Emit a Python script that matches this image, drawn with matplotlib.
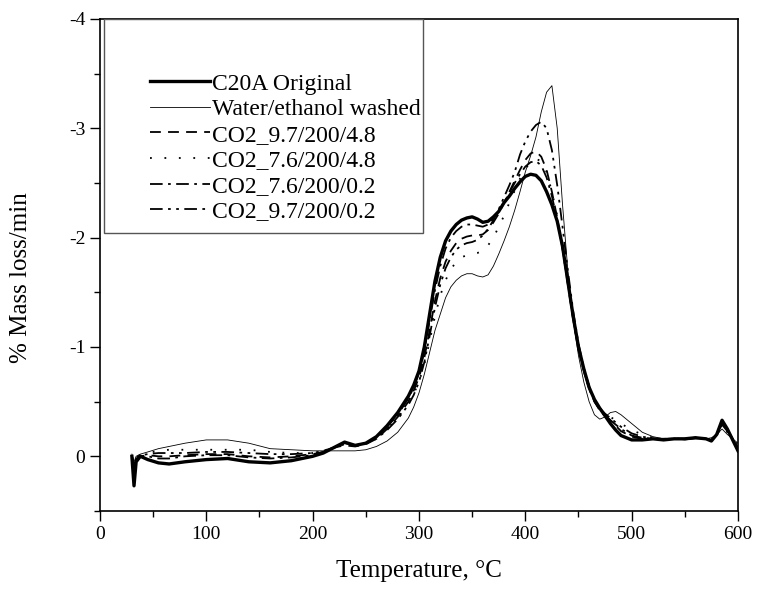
import matplotlib.pyplot as plt
import numpy as np
from matplotlib.ticker import MultipleLocator
from matplotlib.patches import Rectangle

plt.rcParams['font.family'] = ['Liberation Serif', 'DejaVu Serif']
plt.rcParams['axes.unicode_minus'] = False

# temperature grid (deg C)
temp = [30, 32, 34, 38, 45, 55, 65, 80, 100, 120, 140, 160, 180, 200, 210, 220, 230, 240, 250, 260,
        270, 280, 290, 295, 300, 305, 310, 315, 320, 325, 330, 335, 340, 345, 350, 355, 360, 365, 370, 375,
        380, 385, 390, 395, 400, 405, 410, 415, 420, 425, 430, 435, 440, 445, 450, 455, 460, 465, 470, 475,
        480, 485, 490, 500, 510, 520, 530, 540, 550, 560, 570, 575, 580, 585, 590, 595, 600]

# % mass loss/min
c20a = [0.0, 0.27, 0.05, 0.0, 0.03, 0.06, 0.07, 0.05, 0.03, 0.02, 0.05, 0.06, 0.04, 0.0, -0.03, -0.08, -0.13, -0.1, -0.12, -0.18,
        -0.28, -0.4, -0.55, -0.65, -0.78, -1.0, -1.3, -1.6, -1.82, -1.97, -2.06, -2.12, -2.16, -2.18, -2.19, -2.17, -2.14, -2.15, -2.19, -2.24,
        -2.32, -2.38, -2.45, -2.51, -2.56, -2.58, -2.57, -2.52, -2.42, -2.3, -2.15, -1.92, -1.6, -1.28, -1.0, -0.8, -0.63, -0.52, -0.44, -0.37,
        -0.3, -0.24, -0.19, -0.15, -0.15, -0.16, -0.15, -0.16, -0.16, -0.17, -0.16, -0.14, -0.2, -0.33, -0.25, -0.15, -0.05]
washed = [-0.02, 0.05, 0.0, -0.02, -0.04, -0.07, -0.09, -0.12, -0.15, -0.15, -0.12, -0.07, -0.06, -0.05, -0.05, -0.05, -0.05, -0.05, -0.06, -0.09,
          -0.14, -0.22, -0.35, -0.45, -0.58, -0.75, -0.95, -1.15, -1.3, -1.45, -1.55, -1.61, -1.65, -1.67, -1.67, -1.65, -1.64, -1.66, -1.74, -1.85,
          -1.97, -2.1, -2.25, -2.42, -2.6, -2.75, -2.92, -3.15, -3.33, -3.39, -3.0, -2.3, -1.7, -1.25, -0.92, -0.68, -0.5, -0.38, -0.34, -0.36,
          -0.4, -0.41, -0.38, -0.3, -0.22, -0.18, -0.16, -0.16, -0.15, -0.16, -0.16, -0.17, -0.2, -0.25, -0.2, -0.16, -0.12]
co2_97_48 = [0.0, 0.1, 0.02, 0.0, -0.01, 0.0, 0.0, -0.01, -0.02, -0.02, 0.0, 0.01, 0.0, -0.02, -0.04, -0.08, -0.1, -0.09, -0.11, -0.16,
             -0.25, -0.36, -0.5, -0.6, -0.72, -0.9, -1.15, -1.42, -1.63, -1.78, -1.88, -1.95, -1.99, -2.01, -2.02, -2.02, -2.03, -2.07, -2.14, -2.22,
             -2.32, -2.42, -2.52, -2.62, -2.71, -2.77, -2.79, -2.74, -2.62, -2.42, -2.18, -1.9, -1.57, -1.25, -0.98, -0.78, -0.62, -0.5, -0.43, -0.38,
             -0.33, -0.28, -0.23, -0.18, -0.16, -0.16, -0.16, -0.16, -0.16, -0.17, -0.16, -0.15, -0.2, -0.3, -0.24, -0.16, -0.08]
co2_76_48 = [0.0, 0.05, 0.0, -0.01, -0.03, -0.05, -0.06, -0.06, -0.06, -0.06, -0.06, -0.04, -0.03, -0.03, -0.05, -0.08, -0.11, -0.1, -0.12, -0.17,
             -0.25, -0.35, -0.48, -0.57, -0.68, -0.84, -1.05, -1.28, -1.47, -1.61, -1.71, -1.78, -1.82, -1.84, -1.85, -1.86, -1.88, -1.93, -2.0, -2.1,
             -2.2, -2.32, -2.43, -2.54, -2.63, -2.69, -2.72, -2.7, -2.6, -2.42, -2.2, -1.92, -1.6, -1.28, -1.0, -0.8, -0.64, -0.52, -0.44, -0.39,
             -0.36, -0.33, -0.3, -0.24, -0.2, -0.17, -0.16, -0.16, -0.16, -0.17, -0.16, -0.15, -0.19, -0.28, -0.22, -0.16, -0.1]
co2_76_02 = [0.0, 0.15, 0.03, 0.0, 0.0, 0.02, 0.02, 0.0, -0.01, -0.01, 0.01, 0.02, 0.01, -0.01, -0.04, -0.08, -0.12, -0.1, -0.12, -0.17,
             -0.27, -0.38, -0.53, -0.63, -0.76, -0.96, -1.24, -1.52, -1.74, -1.9, -2.0, -2.06, -2.1, -2.12, -2.12, -2.11, -2.1, -2.12, -2.17, -2.24,
             -2.32, -2.41, -2.5, -2.58, -2.65, -2.69, -2.7, -2.66, -2.55, -2.38, -2.16, -1.9, -1.58, -1.26, -0.99, -0.78, -0.62, -0.5, -0.42, -0.37,
             -0.33, -0.29, -0.25, -0.19, -0.17, -0.16, -0.16, -0.16, -0.16, -0.17, -0.16, -0.15, -0.2, -0.31, -0.24, -0.15, -0.07]
co2_97_02 = [0.0, 0.08, 0.01, -0.01, -0.02, -0.03, -0.03, -0.03, -0.04, -0.04, -0.03, -0.02, -0.02, -0.03, -0.05, -0.08, -0.11, -0.1, -0.12, -0.16,
             -0.24, -0.34, -0.47, -0.56, -0.68, -0.86, -1.1, -1.36, -1.57, -1.72, -1.82, -1.89, -1.93, -1.95, -1.96, -1.98, -2.02, -2.08, -2.16, -2.26,
             -2.37, -2.48, -2.6, -2.76, -2.88, -2.97, -3.03, -3.06, -3.0, -2.8, -2.48, -2.1, -1.7, -1.33, -1.03, -0.81, -0.64, -0.52, -0.44, -0.39,
             -0.35, -0.31, -0.27, -0.21, -0.18, -0.16, -0.16, -0.16, -0.16, -0.17, -0.16, -0.15, -0.19, -0.29, -0.23, -0.16, -0.08]

labels = ['C20A Original', 'Water/ethanol washed', 'CO2_9.7/200/4.8',
          'CO2_7.6/200/4.8', 'CO2_7.6/200/0.2', 'CO2_9.7/200/0.2']

fig = plt.figure(figsize=(7.58, 5.91), dpi=100)
ax = fig.add_axes([0.1319, 0.1354, 0.8417, 0.8325])

ax.plot(temp, c20a, color='black', lw=2.4, label=labels[0])
ax.plot(temp, washed, color='black', lw=0.6, label=labels[1])
ax.plot(temp, co2_97_48, color='black', lw=1.3, ls=(0, (6, 4)), label=labels[2])
ax.plot(temp, co2_76_48, color='black', lw=1.3, ls=(0, (1, 7)), label=labels[3])
ax.plot(temp, co2_76_02, color='black', lw=1.3, ls=(0, (7, 3, 1.5, 3)), label=labels[4])
ax.plot(temp, co2_97_02, color='black', lw=1.3, ls=(0, (7, 3, 1.5, 3, 1.5, 3)), label=labels[5])

ax.set_xlim(0, 600)
ax.set_ylim(0.5, -4)
ax.xaxis.set_major_locator(MultipleLocator(100))
ax.xaxis.set_minor_locator(MultipleLocator(50))
ax.yaxis.set_major_locator(MultipleLocator(1))
ax.yaxis.set_minor_locator(MultipleLocator(0.5))
ax.tick_params(which='major', direction='out', length=7, width=1, labelsize=14)
ax.tick_params(which='minor', direction='out', length=4, width=1)
for s in ax.spines.values():
    s.set_linewidth(1.2)

ax.set_xlabel('Temperature, °C', fontsize=18)
ax.set_ylabel('% Mass loss/min', fontsize=18)
ax.xaxis.set_label_coords(0.5, -0.1)
ax.yaxis.set_label_coords(-0.106, 0.475)

# legend box
box = Rectangle((0.0063, 0.565), 0.4997, 0.435, transform=ax.transAxes,
                facecolor='white', edgecolor='#555555', lw=1.0, zorder=3)
ax.add_patch(box)

leg = ax.legend(loc='upper left', bbox_to_anchor=(0.078, 0.89), borderaxespad=0,
                borderpad=0, fontsize=17, frameon=False, handlelength=2.55,
                handletextpad=0.08, labelspacing=0.17)
leg.set_zorder(4)

fig.savefig('out.png', dpi=100)
